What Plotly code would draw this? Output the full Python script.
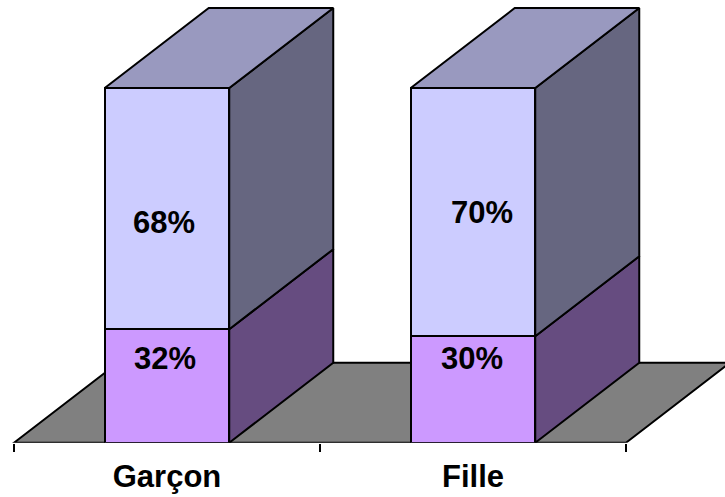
import plotly.graph_objects as go

# Data
categories = ["Garçon", "Fille"]
lower_values = [32, 30]
upper_values = [68, 70]
separators = [-0.5, 0.5, 1.5]
label_shift_lower = [(-2, 27), (-1, 31)]
label_shift_upper = [(-3, -14), (9, 0)]

# Appearance
W, H = 725, 497
X0_PX, UNIT_X_PX = 167.0, 306.0
Y0_PX, UNIT_Y_PX = 442.7, 3.547
DX = 104 / UNIT_X_PX
DY = 80 / UNIT_Y_PX
BAR_W = 124.5 / UNIT_X_PX
LW = 2
xs = list(range(len(categories)))

FRONT = ["#CC99FF", "#CCCCFF"]
SIDE = ["#664C80", "#666680"]
TOP = "#9999BF"
FLOOR = "#808080"

fig = go.Figure()

# Front faces
for vals, col in zip([lower_values, upper_values], FRONT):
    fig.add_trace(go.Bar(x=xs, y=vals, width=BAR_W, marker=dict(color=col, line=dict(color="black", width=LW))))


def poly(px, py, col):
    fig.add_trace(go.Scatter(x=px + px[:1], y=py + py[:1], mode="lines", fill="toself", fillcolor=col,
                             line=dict(color="black", width=LW), hoverinfo="skip"))


# Side and top faces
for i, x in enumerate(xs):
    r = x + BAR_W / 2
    l = x - BAR_W / 2
    base = 0
    for vals, col in zip([lower_values, upper_values], SIDE):
        t = base + vals[i]
        poly([r, r + DX, r + DX, r], [base, base + DY, t + DY, t], col)
        base = t
    poly([l, l + DX, r + DX, r], [base, base + DY, base + DY, base], TOP)

# Value labels
annotations = []
for i, x in enumerate(xs):
    base = 0
    for vals, shifts in zip([lower_values, upper_values], [label_shift_lower, label_shift_upper]):
        annotations.append(dict(x=x, y=base + vals[i] / 2, text=f"<b>{vals[i]}%</b>", showarrow=False,
                                xshift=shifts[i][0], yshift=shifts[i][1],
                                font=dict(family="Liberation Sans", size=31, color="black")))
        base += vals[i]

fig.update_layout(
    width=W, height=H, margin=dict(l=0, r=0, t=0, b=0), barmode="stack", bargap=0,
    paper_bgcolor="white", plot_bgcolor="white", showlegend=False,
    font=dict(family="Liberation Sans", color="black"),
    annotations=annotations,
    shapes=[dict(type="path", layer="below", xref="x", yref="y",
                 path=f"M {separators[0]} 0 L {separators[0] + DX} {DY} L {separators[-1] + DX} {DY} "
                      f"L {separators[-1]} 0 Z",
                 fillcolor=FLOOR, line=dict(color="black", width=LW))],
    xaxis=dict(range=[-X0_PX / UNIT_X_PX, (W - X0_PX) / UNIT_X_PX], tickvals=xs, automargin=False,
               ticktext=[f"<b>{c}</b>" for c in categories],
               ticks="outside", ticklen=6, tickcolor="rgba(0,0,0,0)", tickfont=dict(size=31),
               showgrid=False, zeroline=False, showline=False,
               minor=dict(tickmode="array", tickvals=separators, ticks="outside", ticklen=8, tickwidth=LW,
                          tickcolor="black", showgrid=False)),
    yaxis=dict(domain=[(H - Y0_PX) / H, 1], range=[0, Y0_PX / UNIT_Y_PX], visible=False, automargin=False),
)
fig.write_html("out.html", config={"displayModeBar": False},
               post_script="document.body.style.margin='0';document.body.style.overflow='hidden';")
